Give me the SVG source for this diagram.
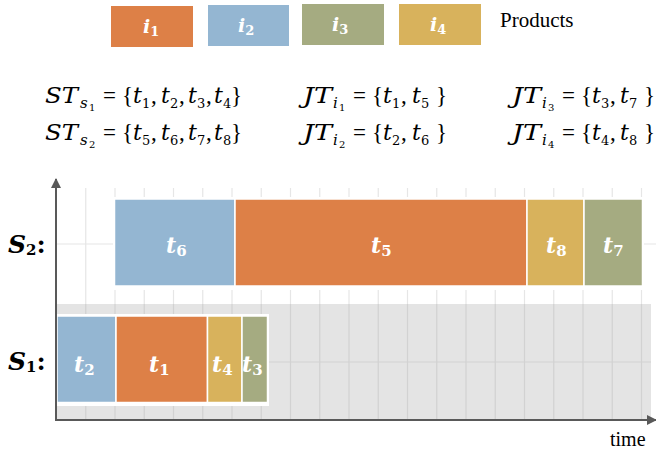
<svg xmlns="http://www.w3.org/2000/svg" width="656" height="453" viewBox="0 0 656 453">
<style>
.o{fill:#DD8047}.b{fill:#94B6D2}.g{fill:#A5AB81}.y{fill:#D8B25C}
.bar{stroke:#fff;stroke-width:1.5}
.lab{font-family:"DejaVu Serif",serif;fill:#fff;font-weight:bold}
.it{font-style:italic}
.m{font-family:"DejaVu Serif",serif;fill:#000}
.r{font-family:"Liberation Serif",serif;fill:#000}
.p{font-family:"Liberation Serif",serif;font-size:23px}
.gl{stroke:#e6e6e6;stroke-width:1.2}
.gd{stroke:#d2d2d2;stroke-width:1.2}
.ax{stroke:#595959;stroke-width:2;fill:none}
</style>
<defs>
<marker id="ar" viewBox="0 0 10 10" refX="9" refY="5" markerWidth="5" markerHeight="5" orient="auto" markerUnits="strokeWidth">
<path d="M0,0 L10,5 L0,10 z" fill="#595959"/>
</marker>
</defs>
<rect width="656" height="453" fill="#fff"/>
<!-- legend -->
<g id="legend">
<g id="leg-i1"><rect class="o" x="111" y="6" width="82" height="41"/><text class="lab" x="143" y="33" font-size="19"><tspan class="it">i</tspan><tspan font-size="13" dy="3">1</tspan></text></g>
<g id="leg-i2"><rect class="b" x="208" y="5" width="81" height="41"/><text class="lab" x="238" y="32" font-size="19"><tspan class="it">i</tspan><tspan font-size="13" dy="3">2</tspan></text></g>
<g id="leg-i3"><rect class="g" x="302" y="4" width="82" height="41"/><text class="lab" x="332" y="31" font-size="19"><tspan class="it">i</tspan><tspan font-size="13" dy="3">3</tspan></text></g>
<g id="leg-i4"><rect class="y" x="399" y="4" width="82" height="41"/><text class="lab" x="430" y="31" font-size="19"><tspan class="it">i</tspan><tspan font-size="13" dy="3">4</tspan></text></g>
<text class="r" x="500" y="27" font-size="21">Products</text>
</g>
<!-- formulas -->
<g id="formulas" class="m" font-size="22">
<text y="103"><tspan class="it" x="45" textLength="33" lengthAdjust="spacingAndGlyphs">ST</tspan><tspan class="it" x="80" y="108" font-size="15">s</tspan><tspan x="89" y="111" font-size="10">1</tspan><tspan class="p" x="103" y="103">=</tspan><tspan class="p" x="122">{</tspan><tspan class="it" x="133">t</tspan><tspan x="142" y="108" font-size="13">1</tspan><tspan class="p" x="151" y="103">,</tspan><tspan class="it" x="161">t</tspan><tspan x="170" y="108" font-size="13">2</tspan><tspan class="p" x="179" y="103">,</tspan><tspan class="it" x="188">t</tspan><tspan x="197" y="108" font-size="13">3</tspan><tspan class="p" x="206" y="103">,</tspan><tspan class="it" x="214">t</tspan><tspan x="223" y="108" font-size="13">4</tspan><tspan class="p" x="231" y="103">}</tspan></text>
<text y="140"><tspan class="it" x="45" textLength="33" lengthAdjust="spacingAndGlyphs">ST</tspan><tspan class="it" x="80" y="145" font-size="15">s</tspan><tspan x="89" y="148" font-size="10">2</tspan><tspan class="p" x="103" y="140">=</tspan><tspan class="p" x="122">{</tspan><tspan class="it" x="133">t</tspan><tspan x="142" y="145" font-size="13">5</tspan><tspan class="p" x="151" y="140">,</tspan><tspan class="it" x="161">t</tspan><tspan x="170" y="145" font-size="13">6</tspan><tspan class="p" x="179" y="140">,</tspan><tspan class="it" x="188">t</tspan><tspan x="197" y="145" font-size="13">7</tspan><tspan class="p" x="206" y="140">,</tspan><tspan class="it" x="214">t</tspan><tspan x="223" y="145" font-size="13">8</tspan><tspan class="p" x="231" y="140">}</tspan></text>
<text y="103"><tspan class="it" x="303" textLength="29" lengthAdjust="spacingAndGlyphs">JT</tspan><tspan class="it" x="333" y="108" font-size="15">i</tspan><tspan x="339" y="111" font-size="10">1</tspan><tspan class="p" x="353" y="103">=</tspan><tspan class="p" x="372">{</tspan><tspan class="it" x="383">t</tspan><tspan x="392" y="108" font-size="13">1</tspan><tspan class="p" x="401" y="103">,</tspan><tspan class="it" x="412">t</tspan><tspan x="421" y="108" font-size="13">5</tspan><tspan class="p" x="436" y="103">}</tspan></text>
<text y="140"><tspan class="it" x="303" textLength="29" lengthAdjust="spacingAndGlyphs">JT</tspan><tspan class="it" x="333" y="145" font-size="15">i</tspan><tspan x="339" y="148" font-size="10">2</tspan><tspan class="p" x="353" y="140">=</tspan><tspan class="p" x="372">{</tspan><tspan class="it" x="383">t</tspan><tspan x="392" y="145" font-size="13">2</tspan><tspan class="p" x="401" y="140">,</tspan><tspan class="it" x="412">t</tspan><tspan x="421" y="145" font-size="13">6</tspan><tspan class="p" x="436" y="140">}</tspan></text>
<text y="103"><tspan class="it" x="512" textLength="29" lengthAdjust="spacingAndGlyphs">JT</tspan><tspan class="it" x="542" y="108" font-size="15">i</tspan><tspan x="548" y="111" font-size="10">3</tspan><tspan class="p" x="562" y="103">=</tspan><tspan class="p" x="581">{</tspan><tspan class="it" x="592">t</tspan><tspan x="601" y="108" font-size="13">3</tspan><tspan class="p" x="610" y="103">,</tspan><tspan class="it" x="620">t</tspan><tspan x="629" y="108" font-size="13">7</tspan><tspan class="p" x="644" y="103">}</tspan></text>
<text y="140"><tspan class="it" x="512" textLength="29" lengthAdjust="spacingAndGlyphs">JT</tspan><tspan class="it" x="542" y="145" font-size="15">i</tspan><tspan x="548" y="148" font-size="10">4</tspan><tspan class="p" x="562" y="140">=</tspan><tspan class="p" x="581">{</tspan><tspan class="it" x="592">t</tspan><tspan x="601" y="145" font-size="13">4</tspan><tspan class="p" x="610" y="140">,</tspan><tspan class="it" x="620">t</tspan><tspan x="629" y="145" font-size="13">8</tspan><tspan class="p" x="644" y="140">}</tspan></text>
</g>
<!-- background band and grid -->
<g id="grid">
<rect x="56" y="304" width="595" height="116" fill="#e4e4e4"/>
<path class="gl" d="M85.75 188V304M115 188V304M144.25 188V304M173.5 188V304M202.75 188V304M232 188V304M261.25 188V304M290.5 188V304M319.75 188V304M349 188V304M378.25 188V304M407.5 188V304M436.75 188V304M466 188V304M495.25 188V304M524.5 188V304M553.75 188V304M583 188V304M612.25 188V304M641.5 188V304M56 244H656"/>
<path class="gd" d="M85.75 304V420M115 304V420M144.25 304V420M173.5 304V420M202.75 304V420M232 304V420M261.25 304V420M290.5 304V420M319.75 304V420M349 304V420M378.25 304V420M407.5 304V420M436.75 304V420M466 304V420M495.25 304V420M524.5 304V420M553.75 304V420M583 304V420M612.25 304V420M641.5 304V420M56 362H651"/>
<rect x="113" y="197" width="531" height="93" fill="#fff"/>
<rect x="56" y="314" width="213" height="92" fill="#fff"/>
</g>
<!-- row labels -->
<g id="row-s2"><text class="m" x="8" y="253" font-size="25" font-weight="bold"><tspan class="it">S</tspan><tspan font-size="15" dy="2">2</tspan><tspan dy="-2">:</tspan></text></g>
<g id="row-s1"><text class="m" x="8" y="370" font-size="25" font-weight="bold"><tspan class="it">S</tspan><tspan font-size="15" dy="2">1</tspan><tspan dy="-2">:</tspan></text></g>
<!-- tasks on S2 -->
<g id="t6"><rect class="b bar" x="114.5" y="199" width="120.5" height="87"/><text class="lab" x="166" y="253" font-size="22"><tspan class="it">t</tspan><tspan font-size="15" dy="3">6</tspan></text></g>
<g id="t5"><rect class="o bar" x="235" y="199" width="292" height="87"/><text class="lab" x="371" y="253" font-size="22"><tspan class="it">t</tspan><tspan font-size="15" dy="3">5</tspan></text></g>
<g id="t8"><rect class="y bar" x="527" y="199" width="57" height="87"/><text class="lab" x="546" y="253" font-size="22"><tspan class="it">t</tspan><tspan font-size="15" dy="3">8</tspan></text></g>
<g id="t7"><rect class="g bar" x="584" y="199" width="58.5" height="87"/><text class="lab" x="603" y="253" font-size="22"><tspan class="it">t</tspan><tspan font-size="15" dy="3">7</tspan></text></g>
<!-- tasks on S1 -->
<g id="t2"><rect class="b bar" x="57" y="316" width="59" height="86.5"/><text class="lab" x="74" y="372" font-size="22"><tspan class="it">t</tspan><tspan font-size="15" dy="3">2</tspan></text></g>
<g id="t1"><rect class="o bar" x="116" y="316" width="91.5" height="86.5"/><text class="lab" x="149" y="372" font-size="22"><tspan class="it">t</tspan><tspan font-size="15" dy="3">1</tspan></text></g>
<g id="t4"><rect class="y bar" x="207.5" y="316" width="34.5" height="86.5"/><text class="lab" x="212" y="372" font-size="22"><tspan class="it">t</tspan><tspan font-size="15" dy="3">4</tspan></text></g>
<g id="t3"><rect class="g bar" x="242" y="316" width="25.5" height="86.5"/><text class="lab" x="242" y="372" font-size="22"><tspan class="it">t</tspan><tspan font-size="15" dy="3">3</tspan></text></g>
<!-- axes -->
<g id="connectors">
<line class="ax" x1="56" y1="421" x2="56" y2="179" marker-end="url(#ar)"/>
<line class="ax" x1="55" y1="420" x2="656" y2="420" marker-end="url(#ar)"/>
</g>
<text class="r" x="610" y="446" font-size="20">time</text>
</svg>
